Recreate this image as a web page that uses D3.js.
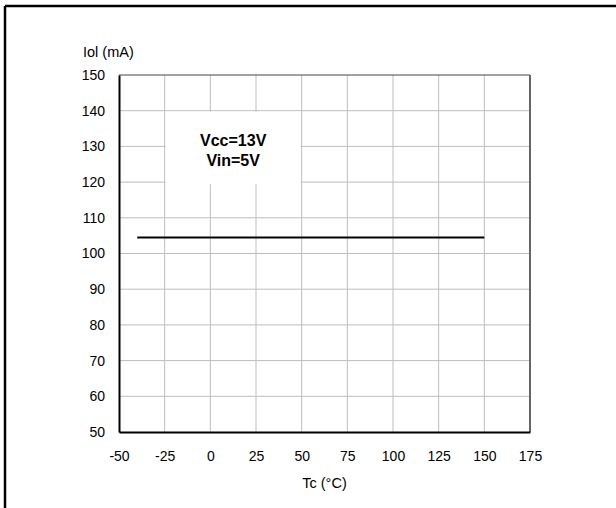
<!DOCTYPE html>
<html>
<head>
<meta charset="utf-8">
<script src="https://cdn.jsdelivr.net/npm/d3@7"></script>
<style>
  body { margin: 0; background: #fff; }
  text { font-family: "Liberation Sans", Arial, sans-serif; fill: #000; }
</style>
</head>
<body>
<div id="chart"></div>
<script>
//size of the svg
var width = 616,
  height = 508;

//chart data
var xTicks = [-50, -25, 0, 25, 50, 75, 100, 125, 150, 175];
var yTicks = [50, 60, 70, 80, 90, 100, 110, 120, 130, 140, 150];
var tcValues = [-40, 150];
var iolValues = [104.5, 104.5];
var noteLines = ["Vcc=13V", "Vin=5V"];

var plot = { left: 119, right: 530, top: 75, bottom: 432 };

var x = d3.scaleLinear().domain([-50, 175]).range([plot.left, plot.right]);
var y = d3.scaleLinear().domain([50, 150]).range([plot.bottom, plot.top]);

var svg = d3
  .select("#chart")
  .append("svg")
  .attr("width", width)
  .attr("height", height);

//outer frame, only top and left are visible
svg.append("line").attr("x1", 5).attr("x2", width).attr("y1", 6).attr("y2", 6)
  .attr("stroke", "#000").attr("stroke-width", 2.5);
svg.append("line").attr("x1", 5).attr("x2", 5).attr("y1", 6).attr("y2", height)
  .attr("stroke", "#000").attr("stroke-width", 2.5);

//grid
svg.append("g")
  .selectAll("line")
  .data(xTicks.slice(1, -1))
  .enter()
  .append("line")
  .attr("x1", d => x(d)).attr("x2", d => x(d))
  .attr("y1", plot.top).attr("y2", plot.bottom)
  .attr("stroke", "#bdbdbd").attr("stroke-width", 1);

svg.append("g")
  .selectAll("line")
  .data(yTicks.slice(1, -1))
  .enter()
  .append("line")
  .attr("x1", plot.left).attr("x2", plot.right)
  .attr("y1", d => y(d)).attr("y2", d => y(d))
  .attr("stroke", "#bdbdbd").attr("stroke-width", 1);

//white box behind the note, it hides the grid
svg.append("rect")
  .attr("x", x(-25) + 1)
  .attr("y", y(140) + 1)
  .attr("width", x(50) - x(-25) - 2)
  .attr("height", y(120) - y(140) + 1)
  .attr("fill", "#fff");

svg.append("g")
  .selectAll("text")
  .data(noteLines)
  .enter()
  .append("text")
  .attr("x", (x(-25) + x(50)) / 2)
  .attr("y", (d, i) => 146 + i * 20)
  .attr("text-anchor", "middle")
  .style("font-size", "16px")
  .style("font-weight", "bold")
  .text(d => d);

//plot frame
svg.append("line").attr("x1", plot.left).attr("x2", plot.right)
  .attr("y1", plot.top).attr("y2", plot.top)
  .attr("stroke", "#444").attr("stroke-width", 1.2);
svg.append("line").attr("x1", plot.right).attr("x2", plot.right)
  .attr("y1", plot.top).attr("y2", plot.bottom)
  .attr("stroke", "#555").attr("stroke-width", 1.8);

//axes, labels use a plain hyphen like the original
var xAxis = d3.axisBottom(x).tickValues(xTicks).tickSize(0).tickPadding(19)
  .tickFormat(d => String(d));
var yAxis = d3.axisLeft(y).tickValues(yTicks).tickSize(0).tickPadding(14)
  .tickFormat(d => String(d));

var gx = svg.append("g")
  .attr("transform", "translate(0," + plot.bottom + ")")
  .call(xAxis);
var gy = svg.append("g")
  .attr("transform", "translate(" + plot.left + ",0)")
  .call(yAxis);

[gx, gy].forEach(function(g) {
  g.select(".domain").attr("stroke", "#000").attr("stroke-width", 2);
  g.selectAll("text")
    .style("font-family", '"Liberation Sans", Arial, sans-serif')
    .style("font-size", "14px")
    .attr("fill", "#000");
});

//data line
var line = d3.line()
  .x(d => x(d[0]))
  .y(d => y(d[1]));

svg.append("path")
  .datum(d3.zip(tcValues, iolValues))
  .attr("d", line)
  .attr("fill", "none")
  .attr("stroke", "#000")
  .attr("stroke-width", 2);

//axis titles
svg.append("text")
  .attr("x", 83).attr("y", 57)
  .style("font-size", "14.5px")
  .text("Iol (mA)");

svg.append("text")
  .attr("x", (plot.left + plot.right) / 2).attr("y", 488)
  .attr("text-anchor", "middle")
  .style("font-size", "14.5px")
  .text("Tc (°C)");
</script>
</body>
</html>
